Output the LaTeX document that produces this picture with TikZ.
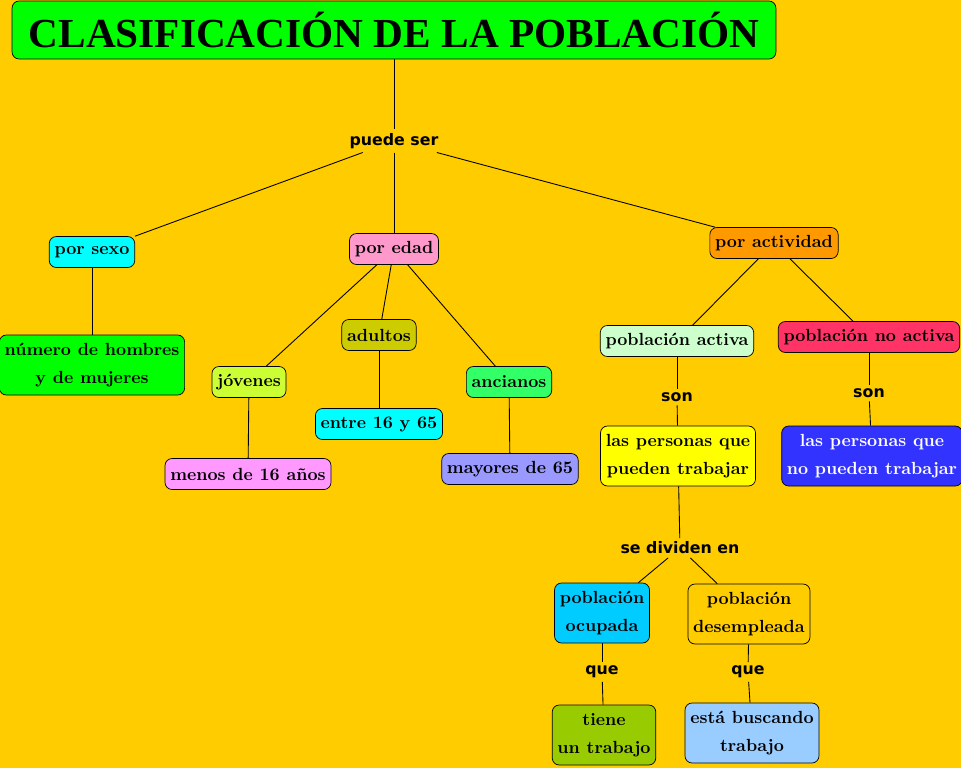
\documentclass[tikz,border=0pt]{standalone}
\usepackage{fontspec}
\newfontfamily\labelfont{DejaVu Sans}
\newfontfamily\titlefont{Liberation Serif}
\usetikzlibrary{positioning}

\definecolor{fondo}{HTML}{FFCC00}
\definecolor{verde}{HTML}{00FF00}
\definecolor{cian}{HTML}{00FFFF}
\definecolor{rosa}{HTML}{FF99CC}
\definecolor{naranja}{HTML}{FF9900}
\definecolor{lima}{HTML}{CCFF33}
\definecolor{oliva}{HTML}{CCCC00}
\definecolor{verdeclaro}{HTML}{33FF66}
\definecolor{lila}{HTML}{FF99FF}
\definecolor{lavanda}{HTML}{9999FF}
\definecolor{menta}{HTML}{CCFFCC}
\definecolor{fresa}{HTML}{FF3366}
\definecolor{amarillo}{HTML}{FFFF00}
\definecolor{azul}{HTML}{3333FF}
\definecolor{celeste}{HTML}{00CCFF}
\definecolor{pistacho}{HTML}{99CC00}
\definecolor{cielo}{HTML}{99CCFF}

\begin{document}
\begin{tikzpicture}[
    x=0.02cm, y=-0.02cm,
    concept/.style={rectangle, draw, rounded corners=4pt, font=\bfseries, align=center, inner xsep=3pt, minimum height=0.62cm},
    twoline/.style={concept, minimum height=1.2cm},
    linkword/.style={font=\labelfont\bfseries\fontsize{9}{11}\selectfont, inner sep=2pt},
    link/.style={line width=0.5pt}
]

% Background
\useasboundingbox (0,0) rectangle (961,768);
\fill[fondo] (0,0) rectangle (961,768);

% Title
\node[rectangle, draw, fill=verde, rounded corners=4pt, minimum width=15.28cm, minimum height=1.16cm,
      font=\titlefont\bfseries\fontsize{23.5}{28}\selectfont] (title) at (394, 30) {CLASIFICACIÓN DE LA POBLACIÓN};
\node[linkword] (puede) at (394, 141) {puede ser};

% First level
\node[concept, fill=cian] (sexo) at (92, 252) {por sexo};
\node[concept, fill=rosa] (edad) at (394, 249) {por edad};
\node[concept, fill=naranja] (actividad) at (774, 243) {por actividad};

% Por sexo
\node[twoline, fill=verde] (numero) at (92, 365) {número de hombres\\[4pt]y de mujeres};

% Por edad
\node[concept, fill=lima] (jovenes) at (249, 382) {jóvenes};
\node[concept, fill=oliva] (adultos) at (379, 335) {adultos};
\node[concept, fill=verdeclaro] (ancianos) at (509, 382) {ancianos};
\node[concept, fill=lila] (menos) at (248, 474) {menos de 16 años};
\node[concept, fill=cian] (entre) at (379, 424) {entre 16 y 65};
\node[concept, fill=lavanda] (mayores) at (510, 469) {mayores de 65};

% Por actividad
\node[concept, fill=menta] (activa) at (677, 341) {población activa};
\node[concept, fill=fresa] (noactiva) at (869, 337) {población no activa};
\node[linkword] (son1) at (677, 397) {son};
\node[linkword] (son2) at (869, 393) {son};
\node[twoline, fill=amarillo] (pueden) at (678, 456) {las personas que\\[4pt]pueden trabajar};
\node[twoline, fill=azul, text=white] (nopueden) at (872, 456) {las personas que\\[4pt]no pueden trabajar};
\node[linkword] (dividen) at (680, 548) {se dividen en};
\node[twoline, fill=celeste] (ocupada) at (602, 613) {población\\[4pt]ocupada};
\node[twoline, fill=fondo] (desempleada) at (749, 614) {población\\[4pt]desempleada};
\node[linkword] (que1) at (602, 672) {que};
\node[linkword] (que2) at (748, 672) {que};
\node[twoline, fill=pistacho] (tiene) at (604, 735) {tiene\\[4pt]un trabajo};
\node[twoline, fill=cielo] (buscando) at (752, 733) {está buscando\\[4pt]trabajo};

% Connectors
\draw[link] (title) -- (puede);
\draw[link] (puede) -- (sexo.north east);
\draw[link] (puede) -- (edad);
\draw[link] (puede) -- (actividad);
\draw[link] (sexo) -- (numero);
\draw[link] (edad) -- (jovenes);
\draw[link] (edad) -- (adultos);
\draw[link] (edad) -- (ancianos);
\draw[link] (jovenes) -- (menos);
\draw[link] (adultos) -- (entre);
\draw[link] (ancianos) -- (mayores);
\draw[link] (actividad) -- (activa);
\draw[link] (actividad) -- (noactiva);
\draw[link] (activa) -- (son1);
\draw[link] (son1) -- (pueden);
\draw[link] (noactiva) -- (son2);
\draw[link] (son2) -- (nopueden);
\draw[link] (pueden) -- (dividen);
\draw[link] (dividen) -- (ocupada);
\draw[link] (dividen) -- (desempleada);
\draw[link] (ocupada) -- (que1);
\draw[link] (que1) -- (tiene);
\draw[link] (desempleada) -- (que2);
\draw[link] (que2) -- (buscando);

\end{tikzpicture}
\end{document}
